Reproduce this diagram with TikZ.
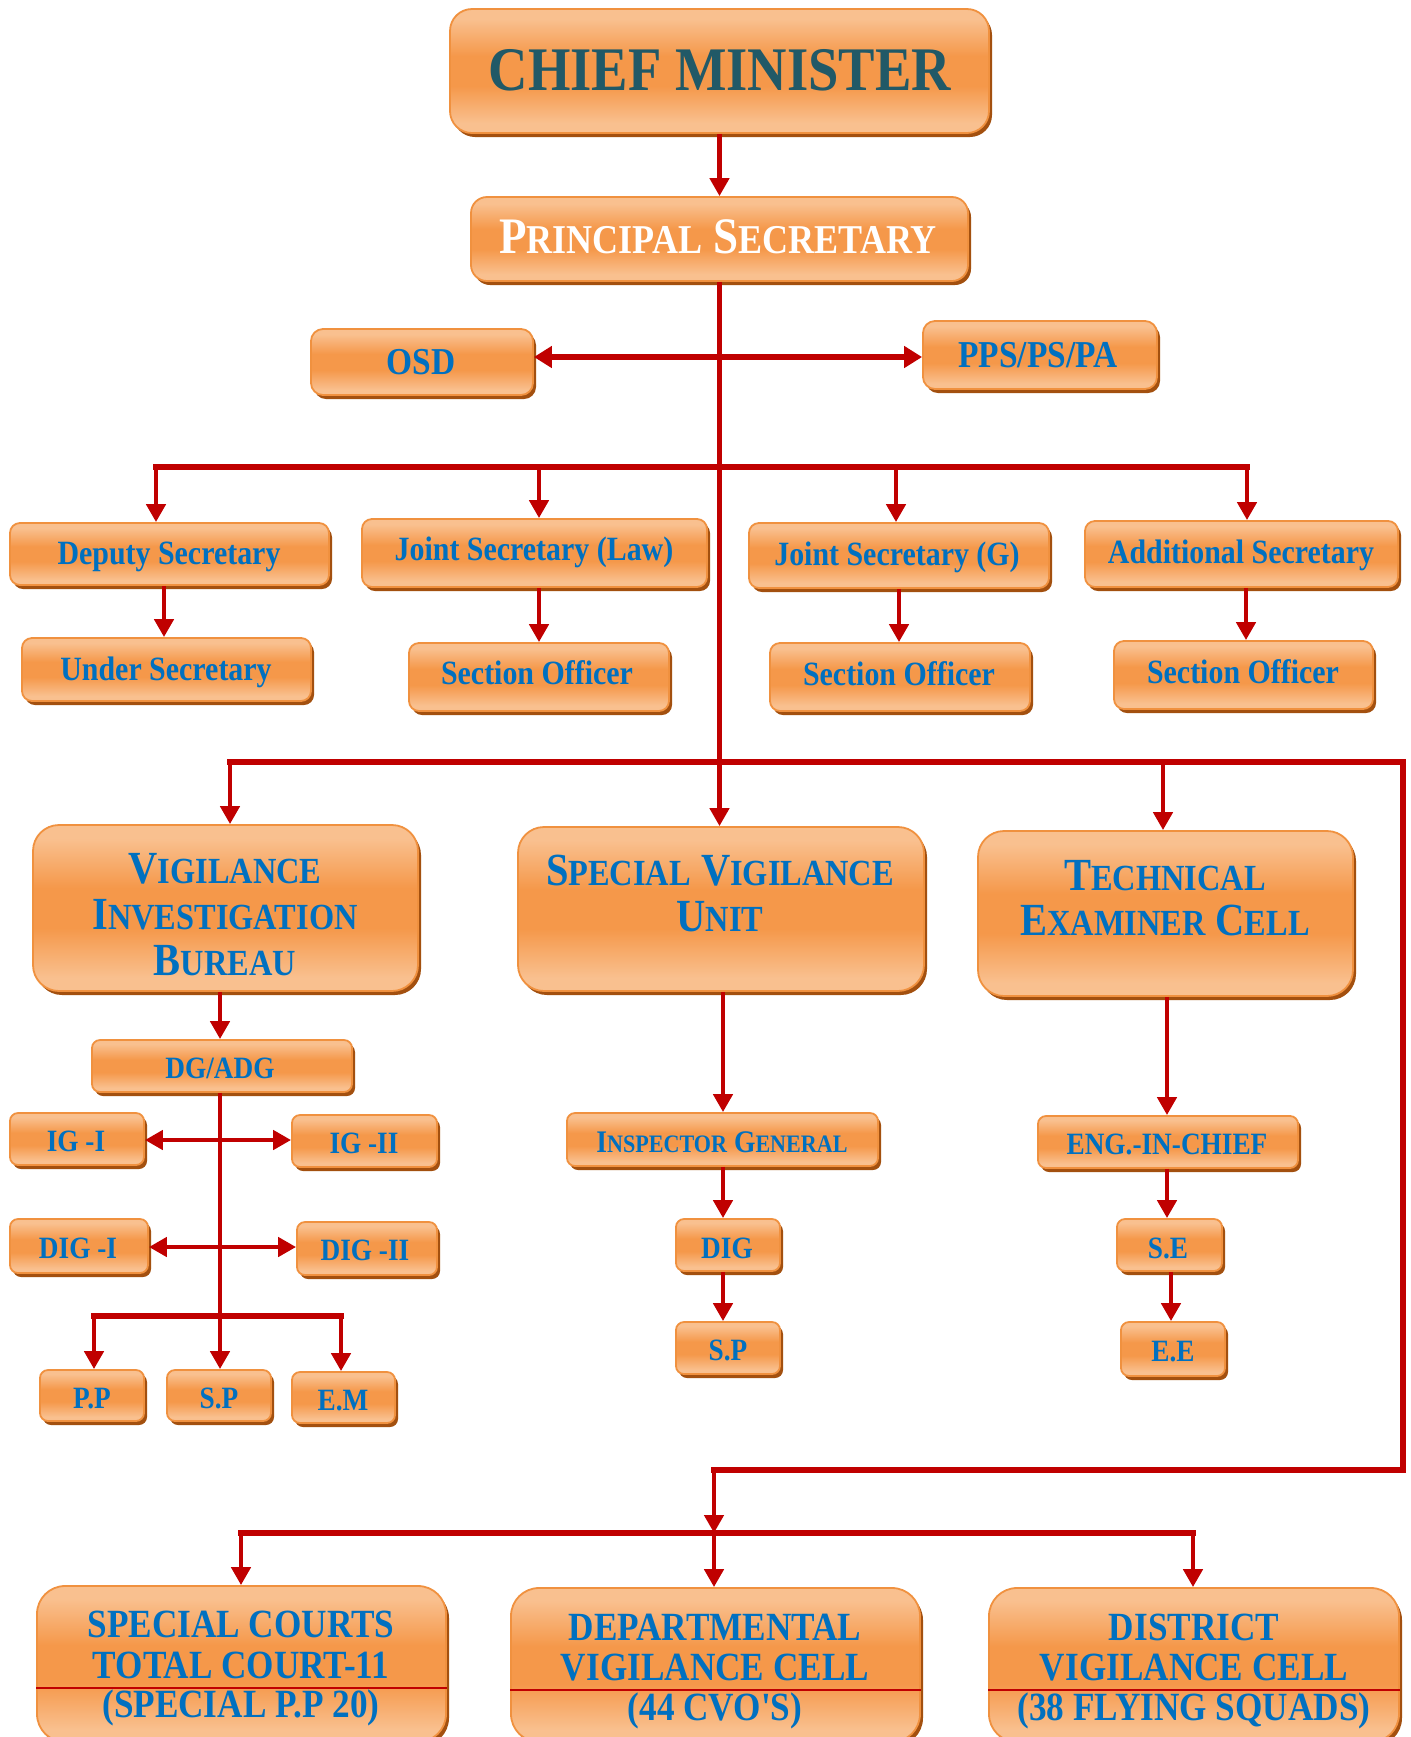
\documentclass[tikz,border=0pt]{standalone}
\usepackage{fontspec}
\setmainfont{Liberation Serif}[FakeStretch=0.88]
\usetikzlibrary{arrows.meta,shadows}
\definecolor{oL}{HTML}{F9C08F}
\definecolor{oM}{HTML}{F5984A}
\definecolor{oB}{HTML}{F0913F}
\definecolor{oS}{HTML}{A3500F}
\definecolor{lr}{HTML}{C00000}
\definecolor{tb}{HTML}{0070C0}
\definecolor{tt}{HTML}{215967}
\pgfdeclareverticalshading{oshade}{100bp}{color(0bp)=(oL); color(25bp)=(oL); color(29bp)=(oL); color(44bp)=(oM); color(56bp)=(oM); color(71bp)=(oL); color(75bp)=(oL); color(100bp)=(oL)}
\makeatletter
\newdimen\scdim
\newcommand\fsc[2]{#1{\scdim=\f@size pt\scdim=0.8\scdim\fontsize{\strip@pt\scdim}{\strip@pt\scdim}\selectfont#2}}
\makeatother
\newcommand\fsz[1]{\fontsize{#1}{#1}\selectfont}
\newcommand\sq{{\addfontfeatures{Ligatures=TeXOff}'}}
\tikzset{
  obox/.style={draw=oB, line width=0.9pt, shade, shading=oshade,
    general shadow={fill=oS, shadow xshift=1.5pt, shadow yshift=-2pt}, inner sep=0pt},
  lbl/.style={inner sep=0pt, text depth=0pt},
  arr/.style={draw=lr, line width=2.4pt, -{Triangle[width=9.5pt,length=9pt]}},
  darr/.style={draw=lr, line width=2.4pt, {Triangle[width=9.5pt,length=9pt]}-{Triangle[width=9.5pt,length=9pt]}},
  bigdarr/.style={draw=lr, line width=3.2pt, {Triangle[width=10.5pt,length=9pt]}-{Triangle[width=10.5pt,length=9pt]}},
  bus/.style={draw=lr, line width=3pt, line cap=rect},
  divider/.style={draw=lr, line width=1.2pt}
}
\newcommand\obox[6]{%
  \pgfmathsetmacro\bw{(#4-#2)*0.5}%
  \pgfmathsetmacro\bh{(#5-#3)*0.5}%
  \pgfmathsetmacro\bcx{(#2+#4)/2}%
  \pgfmathsetmacro\bcy{(#3+#5)/2}%
  \pgfmathsetmacro\br{#6*0.5}%
  \node[obox, minimum width=\bw pt, minimum height=\bh pt, rounded corners=\br pt] (#1) at (\bcx,\bcy) {};}
\newcommand\lab[6]{%
  \pgfmathsetmacro\th{#4*0.662}%
  \node[lbl, text=#5, font=\bfseries\fsz{#4}, text height=\th pt] (#1) at (#2,#3) {#6};}
\begin{document}
\begin{tikzpicture}[x=0.5pt, y=-0.5pt]
\useasboundingbox (0,0) rectangle (1411,1737);
\clip (0,0) rectangle (1411,1737);
\fill[white] (0,0) rectangle (1411,1737);

% boxes
\obox{cm}{450}{9}{989}{133}{22}
\obox{ps}{471}{197}{968}{281}{16}
\obox{osd}{311}{329}{533}{395}{12}
\obox{pps}{923}{321}{1157}{389}{12}
\obox{dep}{10}{523}{329}{585}{10}
\obox{jsl}{362}{519}{707}{587}{10}
\obox{jsg}{749}{523}{1049}{588}{10}
\obox{add}{1085}{521}{1398}{587}{10}
\obox{usec}{22}{638}{311}{701}{10}
\obox{so1}{409}{643}{669}{711}{10}
\obox{so2}{770}{643}{1030}{711}{10}
\obox{so3}{1114}{641}{1373}{709}{10}
\obox{vib}{33}{825}{418}{991}{26}
\obox{svu}{518}{827}{924}{991}{26}
\obox{tec}{978}{831}{1353}{996}{26}
\obox{dg}{92}{1040}{352}{1092}{8}
\obox{ig1}{10}{1113}{144}{1165}{8}
\obox{ig2}{292}{1115}{437}{1167}{8}
\obox{dig1}{10}{1219}{148}{1273}{8}
\obox{dig2}{297}{1222}{437}{1275}{8}
\obox{pp}{40}{1370}{144}{1421}{8}
\obox{spa}{167}{1370}{271}{1421}{8}
\obox{em}{292}{1372}{395}{1423}{8}
\obox{ig}{567}{1113}{878}{1166}{8}
\obox{dig}{676}{1219}{780}{1271}{8}
\obox{spb}{676}{1322}{780}{1374}{8}
\obox{eic}{1038}{1116}{1298}{1168}{8}
\obox{se}{1117}{1219}{1222}{1271}{8}
\obox{ee}{1121}{1322}{1225}{1376}{8}
\obox{sc}{37}{1586}{446}{1742}{28}
\obox{dvc}{511}{1588}{920}{1742}{28}
\obox{dist}{989}{1588}{1399}{1742}{28}

% dividers in bottom boxes
\draw[divider] (sc.west |- 0,1688) -- (sc.east |- 0,1688);
\draw[divider] (dvc.west |- 0,1690) -- (dvc.east |- 0,1690);
\draw[divider] (dist.west |- 0,1690) -- (dist.east |- 0,1690);

% labels
\lab{tcm}{720}{70}{31}{tt}{CHIEF MINISTER}
\lab{tps}{718}{237}{25.6}{white}{\fsc{P}{RINCIPAL} \fsc{S}{ECRETARY}}
\lab{tosd}{421}{362}{19}{tb}{OSD}
\lab{tpps}{1038}{355}{19}{tb}{PPS/PS/PA}
\lab{tdep}{169}{553}{17}{tb}{Deputy Secretary}
\lab{tjsl}{534}{549}{17}{tb}{Joint Secretary (Law)}
\lab{tjsg}{897}{554}{17}{tb}{Joint Secretary (G)}
\lab{tadd}{1241}{552}{17}{tb}{Additional Secretary}
\lab{tusec}{166}{669}{17}{tb}{Under Secretary}
\lab{tso1}{537}{673}{17}{tb}{Section Officer}
\lab{tso2}{899}{674}{17}{tb}{Section Officer}
\lab{tso3}{1243}{672}{17}{tb}{Section Officer}
\lab{tvib1}{225}{868}{23}{tb}{\fsc{V}{IGILANCE}}
\lab{tvib2}{225}{914}{23}{tb}{\fsc{I}{NVESTIGATION}}
\lab{tvib3}{225}{960}{23}{tb}{\fsc{B}{UREAU}}
\lab{tsvu1}{720}{870}{23}{tb}{\fsc{S}{PECIAL} \fsc{V}{IGILANCE}}
\lab{tsvu2}{720}{916}{23}{tb}{\fsc{U}{NIT}}
\lab{ttec1}{1165}{875}{23}{tb}{\fsc{T}{ECHNICAL}}
\lab{ttec2}{1165}{920}{23}{tb}{\fsc{E}{XAMINER} \fsc{C}{ELL}}
\lab{tdg}{220}{1068}{15.5}{tb}{DG/ADG}
\lab{tig1}{76}{1141}{15.5}{tb}{IG -I}
\lab{tig2}{364}{1143}{15.5}{tb}{IG -II}
\lab{tdig1}{78}{1248}{15.5}{tb}{DIG -I}
\lab{tdig2}{365}{1250}{15.5}{tb}{DIG -II}
\lab{tpp}{92}{1398}{15.5}{tb}{P.P}
\lab{tspa}{219}{1398}{15.5}{tb}{S.P}
\lab{tem}{343}{1400}{15.5}{tb}{E.M}
\lab{tig}{722}{1142}{15.7}{tb}{\fsc{I}{NSPECTOR} \fsc{G}{ENERAL}}
\lab{tdig}{727}{1248}{15.5}{tb}{DIG}
\lab{tspb}{728}{1350}{15.5}{tb}{S.P}
\lab{teic}{1167}{1144}{15.5}{tb}{ENG.-IN-CHIEF}
\lab{tse}{1168}{1248}{15.5}{tb}{S.E}
\lab{tee}{1173}{1351}{15.5}{tb}{E.E}
\lab{tsc1}{241}{1624}{20}{tb}{SPECIAL COURTS}
\lab{tsc2}{241}{1665}{20}{tb}{TOTAL COURT-11}
\lab{tsc3}{241}{1704}{20}{tb}{(SPECIAL P.P 20)}
\lab{tdvc1}{715}{1627}{20}{tb}{DEPARTMENTAL}
\lab{tdvc2}{715}{1667}{20}{tb}{VIGILANCE CELL}
\lab{tdvc3}{715}{1707}{20}{tb}{(44 CVO\sq S)}
\lab{tdist1}{1194}{1627}{20}{tb}{DISTRICT}
\lab{tdist2}{1194}{1667}{20}{tb}{VIGILANCE CELL}
\lab{tdist3}{1194}{1707}{20}{tb}{(38 FLYING SQUADS)}

% coordinates
\coordinate (op) at (720,357);
\coordinate (b1a) at (156,467);
\coordinate (b1c) at (539,467);
\coordinate (b1d) at (896,467);
\coordinate (b1b) at (1247,467);
\coordinate (xa) at (164,0);
\coordinate (xb) at (539,0);
\coordinate (xc) at (899,0);
\coordinate (xd) at (1246,0);
\coordinate (b2a) at (230,762);
\coordinate (b2c) at (1163,762);
\coordinate (b2b) at (1403,762);
\coordinate (r1) at (1403,1470);
\coordinate (r2) at (714,1470);
\coordinate (b3a) at (241,1533);
\coordinate (b3m) at (714,1533);
\coordinate (b3b) at (1193,1533);
\coordinate (vx) at (220,0);
\coordinate (igy) at (0,1140);
\coordinate (digy) at (0,1247);
\coordinate (b4a) at (94,1316);
\coordinate (b4b) at (341,1316);
\coordinate (sx) at (723,0);
\coordinate (tx) at (1167,0);
\coordinate (tx2) at (1171,0);

% connectors
\draw[arr] (cm.south) -- (ps.north);
\draw[arr] (ps.south) -- (ps.south |- svu.north);
\draw[bigdarr] (osd.east |- op) -- (pps.west |- op);
\draw[bus] (b1a) -- (b1b);
\draw[arr] (b1a) -- (b1a |- dep.north);
\draw[arr] (b1c) -- (b1c |- jsl.north);
\draw[arr] (b1d) -- (b1d |- jsg.north);
\draw[arr] (b1b) -- (b1b |- add.north);
\draw[arr] (xa |- dep.south) -- (xa |- usec.north);
\draw[arr] (xb |- jsl.south) -- (xb |- so1.north);
\draw[arr] (xc |- jsg.south) -- (xc |- so2.north);
\draw[arr] (xd |- add.south) -- (xd |- so3.north);
\draw[bus] (b2a) -- (b2b);
\draw[arr] (b2a) -- (b2a |- vib.north);
\draw[arr] (b2c) -- (b2c |- tec.north);
\draw[draw=lr, line width=2.6pt, line cap=rect] (b2b) -- (r1) -- (r2);
\draw[arr] (r2) -- (b3m);
\draw[bus] (b3a) -- (b3b);
\draw[arr] (b3a) -- (b3a |- sc.north);
\draw[arr] (b3m) -- (b3m |- dvc.north);
\draw[arr] (b3b) -- (b3b |- dist.north);
\draw[arr] (vx |- vib.south) -- (vx |- dg.north);
\draw[arr] (vx |- dg.south) -- (vx |- spa.north);
\draw[darr] (ig1.east |- igy) -- (ig2.west |- igy);
\draw[darr] (dig1.east |- digy) -- (dig2.west |- digy);
\draw[bus] (b4a) -- (b4b);
\draw[arr] (b4a) -- (b4a |- pp.north);
\draw[arr] (b4b) -- (b4b |- em.north);
\draw[arr] (sx |- svu.south) -- (sx |- ig.north);
\draw[arr] (sx |- ig.south) -- (sx |- dig.north);
\draw[arr] (sx |- dig.south) -- (sx |- spb.north);
\draw[arr] (tx |- tec.south) -- (tx |- eic.north);
\draw[arr] (tx |- eic.south) -- (tx |- se.north);
\draw[arr] (tx2 |- se.south) -- (tx2 |- ee.north);
\end{tikzpicture}
\end{document}
